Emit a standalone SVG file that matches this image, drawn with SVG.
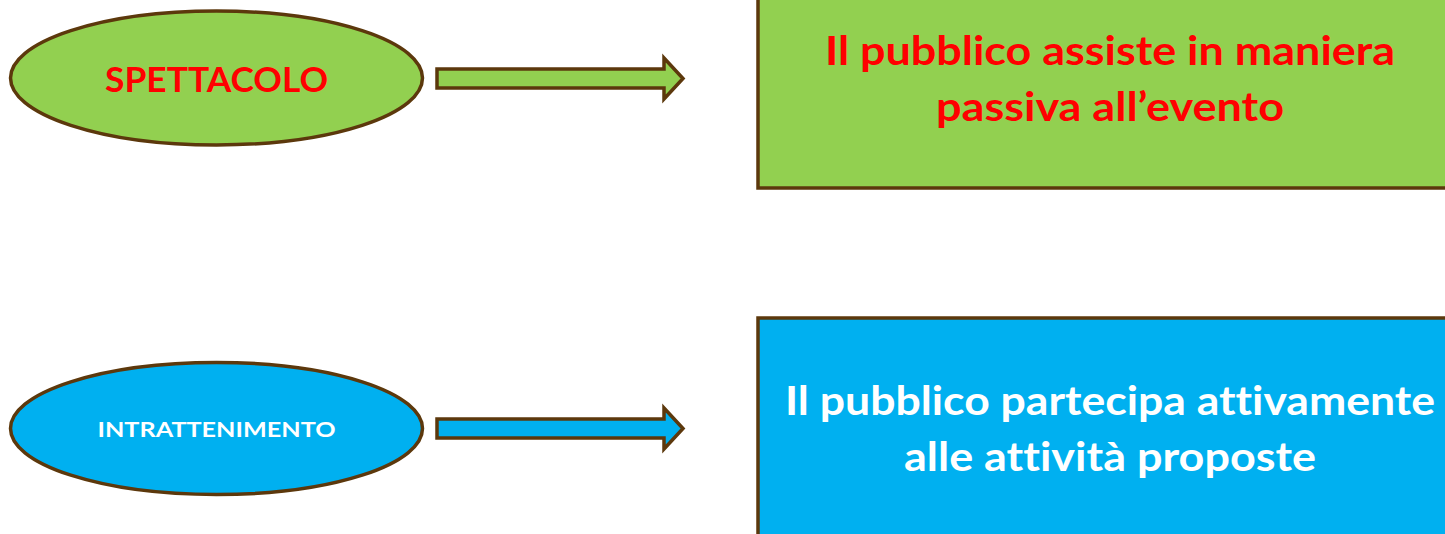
<svg xmlns="http://www.w3.org/2000/svg" width="1445" height="534" viewBox="0 0 1445 534">
  <style>
    .shape { stroke: #5C380C; stroke-width: 3.5; }
    .green { fill: #92D050; }
    .blue { fill: #00B0F0; }
    .t { font-family: Lato, "Open Sans", "Liberation Sans", sans-serif; font-weight: bold; text-anchor: middle; font-variant-ligatures: none; font-feature-settings: "liga" 0; }
    .red { fill: #FF0000; }
    .white { fill: #FFFFFF; }
  </style>
  <rect width="1445" height="534" fill="#FFFFFF"/>
  <g id="spettacolo">
    <ellipse class="shape green" cx="216.5" cy="78" rx="206" ry="67"/>
    <text class="t red" x="216.5" y="92" font-size="34" textLength="223" lengthAdjust="spacingAndGlyphs">SPETTACOLO</text>
  </g>
  <g id="intrattenimento">
    <ellipse class="shape blue" cx="216.5" cy="428.5" rx="206" ry="66"/>
    <text class="t white" x="216.5" y="437" font-size="21" textLength="238" lengthAdjust="spacingAndGlyphs">INTRATTENIMENTO</text>
  </g>
  <g id="passivo">
    <rect class="shape green" x="758" y="-5" width="700" height="193"/>
    <text class="t red" x="1110" y="65" font-size="40" textLength="570" lengthAdjust="spacingAndGlyphs">Il pubblico assiste in maniera</text>
    <text class="t red" x="1110" y="121" font-size="40" textLength="348" lengthAdjust="spacingAndGlyphs">passiva all’evento</text>
  </g>
  <g id="attivo">
    <rect class="shape blue" x="758" y="318" width="700" height="230"/>
    <text class="t white" x="1110" y="415" font-size="40" textLength="650" lengthAdjust="spacingAndGlyphs">Il pubblico partecipa attivamente</text>
    <text class="t white" x="1110" y="471" font-size="40" textLength="412" lengthAdjust="spacingAndGlyphs">alle attività proposte</text>
  </g>
  <g id="connectors">
    <path class="shape green" d="M437 69 L664 69 L664 58 L683 78.5 L664 99 L664 88 L437 88 Z"/>
    <path class="shape blue" d="M437 419 L664 419 L664 408 L683 428.5 L664 449 L664 438 L437 438 Z"/>
  </g>
</svg>
